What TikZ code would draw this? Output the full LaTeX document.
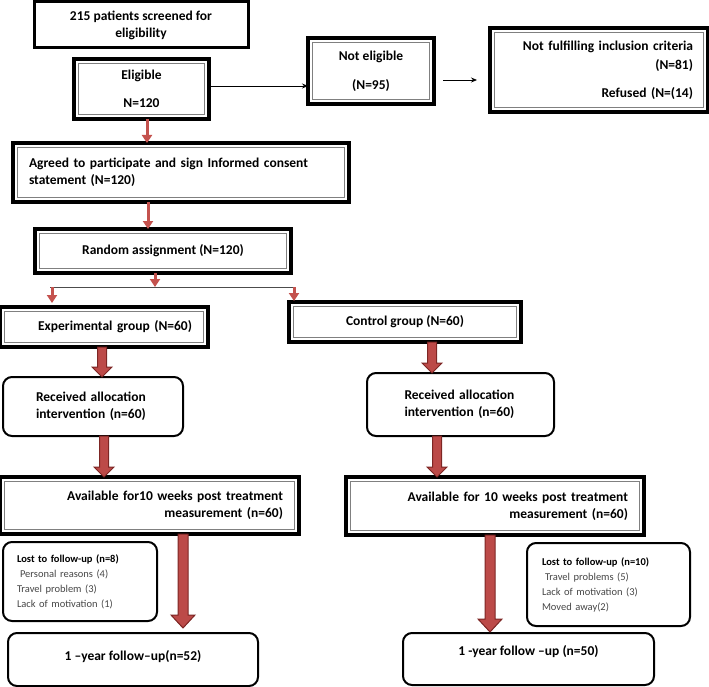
\documentclass[tikz,border=0pt]{standalone}
\usepackage{fontspec}
\setmainfont{Carlito}
\usetikzlibrary{arrows.meta,calc}
\definecolor{redarr}{RGB}{196,82,78}
\definecolor{blkfill}{RGB}{188,74,72}
\definecolor{blkline}{RGB}{125,38,36}
\definecolor{losttxt}{RGB}{70,70,70}
\newcommand{\innerframe}[1]{\draw[gray, line width=0.9pt] ($(#1.north west)+(4.5,4.5)$) rectangle ($(#1.south east)+(-4.5,-4.5)$);}
\newcommand{\blockarr}[5]{\draw[blockarrow] let \p1=#1, \p2=#2 in (\x1-#3pt,\y1) -- (\x1-#3pt,\y2+#5pt) -- (\x1-#4pt,\y2+#5pt) -- (\x1,\y2) -- (\x1+#4pt,\y2+#5pt) -- (\x1+#3pt,\y2+#5pt) -- (\x1+#3pt,\y1) -- cycle;}
\newcommand{\lostln}[1]{{\mdseries\color{losttxt}#1}}
\begin{document}
\begin{tikzpicture}[x=1pt,y=-1pt,
  font=\fontsize{13.5}{17}\selectfont\bfseries,
  sbox/.style={draw, line width=3pt, inner sep=0pt, outer sep=0pt, align=center},
  dbox/.style={draw, line width=3.5pt, inner sep=0pt, outer sep=0pt, align=center},
  rbox/.style={draw, line width=2pt, rounded corners=9pt, inner sep=0pt, outer sep=0pt, align=center},
  lostfont/.style={font=\fontsize{10.5}{15}\selectfont\bfseries},
  redarrow/.style={draw=redarr, line width=3pt, -{Triangle[width=10pt,length=8pt]}},
  thinarrow/.style={line width=0.8pt, -{Stealth[length=6pt,width=5pt]}},
  blockarrow/.style={fill=blkfill, draw=blkline, line width=1pt}]
\useasboundingbox (0,0) rectangle (709,687);

% top
\node[sbox, minimum width=214, minimum height=46] (screen) at (141,25) {215 patients screened for\\eligibility};
\node[dbox, minimum width=135, minimum height=60] (elig) at (141.5,89) {Eligible\\[11pt]N=120};
\innerframe{elig}
\node[dbox, minimum width=126, minimum height=66] (nel) at (371,71) {Not eligible\\[12pt](N=95)};
\innerframe{nel}
\node[dbox, minimum width=218, minimum height=84, text width=188, align=right] (nf) at (599,70) {Not fulfilling inclusion criteria\\[2pt](N=81)\\[11pt]Refused (N=(14)};
\innerframe{nf}

\node[dbox, minimum width=336, minimum height=59, text width=304, align=left] (agreed) at (181,172.5) {\makebox[\linewidth][s]{Agreed to participate and sign Informed consent}\\statement (N=120)};
\innerframe{agreed}
\node[dbox, minimum width=256, minimum height=44] (random) at (163,251) {Random assignment (N=120)};
\innerframe{random}

% groups
\node[dbox, minimum width=208, minimum height=40, text width=176, align=right] (exp) at (104,327) {Experimental group (N=60)};
\innerframe{exp}
\node[dbox, minimum width=232, minimum height=40] (ctrl) at (405,322) {Control group (N=60)};
\innerframe{ctrl}

\node[rbox, minimum width=180, minimum height=59, text width=114, align=left] (recexp) at (93,406.5) {Received allocation\\intervention (n=60)};
\node[rbox, minimum width=187, minimum height=63, text width=112, align=left] (recctrl) at (460.5,404.5) {Received allocation\\intervention (n=60)};

\node[dbox, minimum width=299, minimum height=57, text width=267, align=right] (avexp) at (149.5,505.5) {Available for10 weeks post treatment\\measurement (n=60)};
\innerframe{avexp}
\node[dbox, minimum width=298, minimum height=58, text width=266, align=right] (avctrl) at (495,506) {Available for 10 weeks post treatment\\measurement (n=60)};
\innerframe{avctrl}

\node[rbox, lostfont, minimum width=154, minimum height=79, text width=126, align=left] (lostexp) at (80,581.5) {Lost to follow-up (n=8)\\\lostln{\hspace{3pt}Personal reasons (4)}\\\lostln{Travel problem (3)}\\\lostln{Lack of motivation (1)}};
\node[rbox, lostfont, minimum width=163, minimum height=83, text width=133, align=left] (lostctrl) at (608.5,584.5) {Lost to follow-up (n=10)\\\lostln{\hspace{3pt}Travel problems (5)}\\\lostln{Lack of motivation (3)}\\\lostln{Moved away(2)}};

\node[rbox, minimum width=250, minimum height=53] (fuexp) at (133,659.5) {1 –year follow–up(n=52)\\[-8pt]\mbox{}};
\node[rbox, minimum width=251, minimum height=52] (fuctrl) at (528.5,659) {1 -year follow –up (n=50)\\[0pt]\mbox{}};

% thin black arrows
\draw[thinarrow] (elig.east |- 0,86) -- (nel.west |- 0,86);
\draw[thinarrow, shorten <=9pt, shorten >=13pt] (nel.east |- 0,80) -- (nf.west |- 0,80);

% red arrows
\draw[redarrow] (elig.south -| 147,0) -- (agreed.north -| 147,0);
\draw[redarrow] (agreed.south -| 148,0) -- (random.north -| 148,0);
\coordinate (bl) at (50,287);
\coordinate (br) at (295,287);
\coordinate (bm) at (155,287);
\draw[gray!60!black, line width=0.9pt] (bl) -- (br);
\draw[redarrow] (random.south -| bm) -- (bm);
\draw[redarrow, shorten >=4pt] (52,287) -- (exp.north -| 52,0);
\draw[redarrow, shorten >=1pt] (294,287) -- (ctrl.north -| 294,0);

% block arrows
\blockarr{(exp.south -| 102,0)}{(recexp.north -| 102,0)}{4.5}{10}{10}
\blockarr{(ctrl.south -| 432,0)}{(recctrl.north -| 432,0)}{4.5}{10}{10}
\blockarr{(recexp.south -| 104,0)}{(avexp.north -| 104,0)}{4.5}{10}{10}
\blockarr{(recctrl.south -| 437,0)}{(avctrl.north -| 437,0)}{4.5}{10}{10}
\blockarr{(avexp.south -| 183,0)}{(183,628)}{5}{12}{13}
\blockarr{(avctrl.south -| 490,0)}{(490,632)}{5}{12}{13}
\end{tikzpicture}
\end{document}
